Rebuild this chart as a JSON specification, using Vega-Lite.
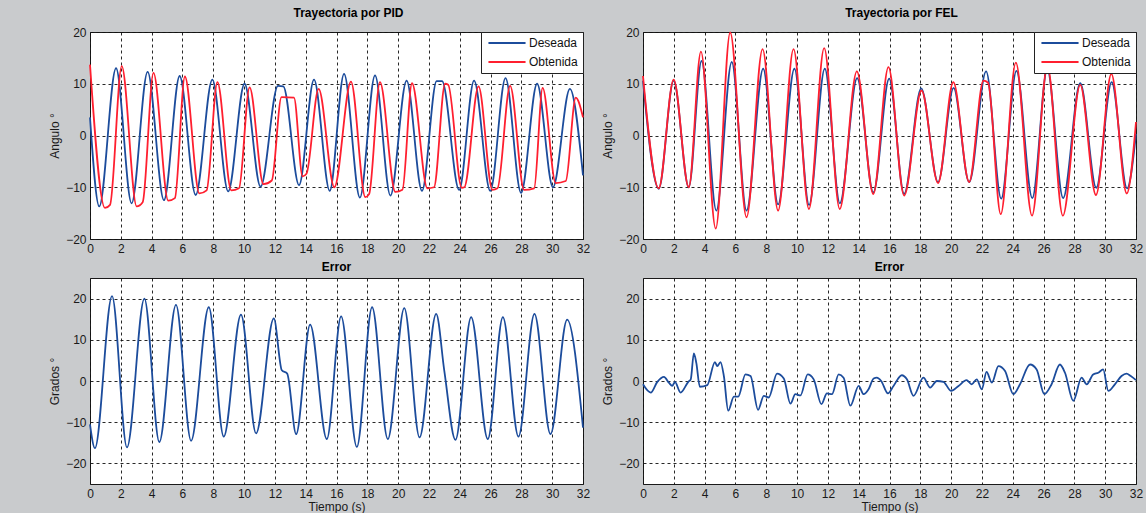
{
  "$schema": "https://vega.github.io/schema/vega-lite/v6.json",
  "background": "#c9cbcd",
  "padding": {"left": 48, "top": 6, "right": 10, "bottom": 0},
  "config": {
    "font": "Liberation Sans",
    "view": {"fill": "white", "stroke": "#1a1a1a", "strokeWidth": 1},
    "axis": {
      "grid": true, "gridColor": "#111111", "gridDash": [3, 3], "gridOpacity": 0.9, "gridWidth": 1,
      "domain": false, "ticks": false,
      "labelFontSize": 12, "labelColor": "#1a1a1a", "labelFont": "Liberation Sans",
      "labelFlush": false, "labelOverlap": false, "labelPadding": 4,
      "titleFontSize": 12, "titleFontWeight": "normal", "titleColor": "#1a1a1a", "titleFont": "Liberation Sans", "titlePadding": 4
    },
    "title": {"fontSize": 12, "fontWeight": "bold", "color": "#000000", "font": "Liberation Sans", "frame": "group"},
    "legend": {
      "orient": "top-right", "offset": 0, "title": null,
      "symbolType": "M-4,0H4", "symbolSize": 86, "symbolStrokeWidth": 2, "symbolOffset": 15,
      "labelFontSize": 12, "labelFont": "Liberation Sans", "labelColor": "#111111", "labelOffset": 16, "labelAlign": "left",
      "fillColor": "white", "strokeColor": "#222222", "padding": 5, "rowPadding": 7
    },
    "line": {"strokeWidth": 1.8, "interpolate": "monotone"}
  },
  "datasets": {
    "pid": [
      {"t": 0, "v": 3.5, "s": "Deseada"}, {"t": 0.6, "v": -13.7, "s": "Deseada"}, {"t": 1.69, "v": 13.0, "s": "Deseada"}, {"t": 2.7, "v": -13.1, "s": "Deseada"}, {"t": 3.74, "v": 12.3, "s": "Deseada"}, {"t": 4.8, "v": -12.5, "s": "Deseada"}, {"t": 5.82, "v": 11.5, "s": "Deseada"}, {"t": 6.86, "v": -11.5, "s": "Deseada"}, {"t": 7.94, "v": 10.8, "s": "Deseada"}, {"t": 8.97, "v": -10.8, "s": "Deseada"}, {"t": 10.03, "v": 10.0, "s": "Deseada"}, {"t": 11.07, "v": -9.9, "s": "Deseada"}, {"t": 12.2, "v": 9.6, "s": "Deseada"}, {"t": 12.55, "v": 9.5, "s": "Deseada"}, {"t": 13.57, "v": -9.6, "s": "Deseada"}, {"t": 14.54, "v": 10.8, "s": "Deseada"}, {"t": 15.56, "v": -10.7, "s": "Deseada"}, {"t": 16.49, "v": 11.9, "s": "Deseada"}, {"t": 17.52, "v": -12.0, "s": "Deseada"}, {"t": 18.5, "v": 11.6, "s": "Deseada"}, {"t": 19.5, "v": -11.6, "s": "Deseada"}, {"t": 20.55, "v": 10.6, "s": "Deseada"}, {"t": 21.55, "v": -10.7, "s": "Deseada"}, {"t": 22.5, "v": 10.5, "s": "Deseada"}, {"t": 22.85, "v": 10.5, "s": "Deseada"}, {"t": 23.96, "v": -10.5, "s": "Deseada"}, {"t": 24.93, "v": 10.6, "s": "Deseada"}, {"t": 25.98, "v": -10.7, "s": "Deseada"}, {"t": 26.97, "v": 11.1, "s": "Deseada"}, {"t": 27.98, "v": -11.1, "s": "Deseada"}, {"t": 29.02, "v": 10.0, "s": "Deseada"}, {"t": 30.05, "v": -10.0, "s": "Deseada"}, {"t": 31.15, "v": 9.0, "s": "Deseada"}, {"t": 32, "v": -7.7, "s": "Deseada"},
      {"t": 0, "v": 13.7, "s": "Obtenida"}, {"t": 0.97, "v": -14.0, "s": "Obtenida"}, {"t": 1.3, "v": -13.4, "s": "Obtenida"}, {"t": 2.06, "v": 13.4, "s": "Obtenida"}, {"t": 3.03, "v": -13.7, "s": "Obtenida"}, {"t": 3.42, "v": -12.9, "s": "Obtenida"}, {"t": 4.12, "v": 12.1, "s": "Obtenida"}, {"t": 5.08, "v": -12.6, "s": "Obtenida"}, {"t": 5.51, "v": -12.1, "s": "Obtenida"}, {"t": 6.16, "v": 11.4, "s": "Obtenida"}, {"t": 7.1, "v": -11.2, "s": "Obtenida"}, {"t": 7.57, "v": -10.6, "s": "Obtenida"}, {"t": 8.27, "v": 10.3, "s": "Obtenida"}, {"t": 9.17, "v": -10.6, "s": "Obtenida"}, {"t": 9.67, "v": -10.2, "s": "Obtenida"}, {"t": 10.36, "v": 9.3, "s": "Obtenida"}, {"t": 11.26, "v": -9.4, "s": "Obtenida"}, {"t": 11.8, "v": -8.7, "s": "Obtenida"}, {"t": 12.43, "v": 7.4, "s": "Obtenida"}, {"t": 13.24, "v": 7.3, "s": "Obtenida"}, {"t": 13.8, "v": -7.9, "s": "Obtenida"}, {"t": 14.05, "v": -7.4, "s": "Obtenida"}, {"t": 14.84, "v": 9.0, "s": "Obtenida"}, {"t": 15.86, "v": -10.0, "s": "Obtenida"}, {"t": 16.94, "v": 10.4, "s": "Obtenida"}, {"t": 17.87, "v": -11.9, "s": "Obtenida"}, {"t": 18.12, "v": -11.3, "s": "Obtenida"}, {"t": 18.82, "v": 10.3, "s": "Obtenida"}, {"t": 19.82, "v": -10.9, "s": "Obtenida"}, {"t": 20.28, "v": -10.5, "s": "Obtenida"}, {"t": 20.9, "v": 10.1, "s": "Obtenida"}, {"t": 21.9, "v": -10.2, "s": "Obtenida"}, {"t": 22.33, "v": -10.0, "s": "Obtenida"}, {"t": 23.05, "v": 10.0, "s": "Obtenida"}, {"t": 23.25, "v": 9.8, "s": "Obtenida"}, {"t": 24.13, "v": -10.1, "s": "Obtenida"}, {"t": 24.3, "v": -10.0, "s": "Obtenida"}, {"t": 25.22, "v": 9.5, "s": "Obtenida"}, {"t": 26.12, "v": -10.5, "s": "Obtenida"}, {"t": 26.45, "v": -10.2, "s": "Obtenida"}, {"t": 27.27, "v": 9.6, "s": "Obtenida"}, {"t": 28.18, "v": -10.5, "s": "Obtenida"}, {"t": 28.83, "v": -10.2, "s": "Obtenida"}, {"t": 29.38, "v": 9.2, "s": "Obtenida"}, {"t": 30.23, "v": -9.2, "s": "Obtenida"}, {"t": 30.88, "v": -8.8, "s": "Obtenida"}, {"t": 31.53, "v": 7.3, "s": "Obtenida"}, {"t": 32, "v": 3.5, "s": "Obtenida"}
    ],
    "fel": [
      {"t": 0, "v": 10.6, "s": "Deseada"}, {"t": 1.02, "v": -10.3, "s": "Deseada"}, {"t": 1.99, "v": 10.6, "s": "Deseada"}, {"t": 2.97, "v": -10.0, "s": "Deseada"}, {"t": 3.8, "v": 14.4, "s": "Deseada"}, {"t": 4.76, "v": -14.5, "s": "Deseada"}, {"t": 5.76, "v": 14.2, "s": "Deseada"}, {"t": 6.72, "v": -14.5, "s": "Deseada"}, {"t": 7.8, "v": 12.9, "s": "Deseada"}, {"t": 8.77, "v": -13.3, "s": "Deseada"}, {"t": 9.83, "v": 12.9, "s": "Deseada"}, {"t": 10.78, "v": -13.4, "s": "Deseada"}, {"t": 11.8, "v": 12.9, "s": "Deseada"}, {"t": 12.78, "v": -13.1, "s": "Deseada"}, {"t": 13.9, "v": 11.1, "s": "Deseada"}, {"t": 14.95, "v": -11.0, "s": "Deseada"}, {"t": 15.98, "v": 11.0, "s": "Deseada"}, {"t": 16.95, "v": -11.3, "s": "Deseada"}, {"t": 18.06, "v": 9.1, "s": "Deseada"}, {"t": 19.15, "v": -9.0, "s": "Deseada"}, {"t": 20.16, "v": 9.2, "s": "Deseada"}, {"t": 21.17, "v": -9.0, "s": "Deseada"}, {"t": 22.27, "v": 12.4, "s": "Deseada"}, {"t": 23.25, "v": -12.2, "s": "Deseada"}, {"t": 24.24, "v": 12.5, "s": "Deseada"}, {"t": 25.27, "v": -12.1, "s": "Deseada"}, {"t": 26.24, "v": 12.8, "s": "Deseada"}, {"t": 27.27, "v": -12.1, "s": "Deseada"}, {"t": 28.38, "v": 10.1, "s": "Deseada"}, {"t": 29.42, "v": -10.1, "s": "Deseada"}, {"t": 30.42, "v": 10.3, "s": "Deseada"}, {"t": 31.42, "v": -10.2, "s": "Deseada"}, {"t": 32, "v": 0.3, "s": "Deseada"},
      {"t": 0, "v": 11.5, "s": "Obtenida"}, {"t": 1.02, "v": -10.2, "s": "Obtenida"}, {"t": 1.99, "v": 10.8, "s": "Obtenida"}, {"t": 2.97, "v": -10.0, "s": "Obtenida"}, {"t": 3.76, "v": 16.2, "s": "Obtenida"}, {"t": 4.72, "v": -18.0, "s": "Obtenida"}, {"t": 5.66, "v": 19.9, "s": "Obtenida"}, {"t": 6.72, "v": -15.8, "s": "Obtenida"}, {"t": 7.76, "v": 16.7, "s": "Obtenida"}, {"t": 8.77, "v": -14.5, "s": "Obtenida"}, {"t": 9.77, "v": 16.7, "s": "Obtenida"}, {"t": 10.77, "v": -14.2, "s": "Obtenida"}, {"t": 11.76, "v": 16.9, "s": "Obtenida"}, {"t": 12.77, "v": -14.2, "s": "Obtenida"}, {"t": 13.88, "v": 12.4, "s": "Obtenida"}, {"t": 14.95, "v": -11.3, "s": "Obtenida"}, {"t": 15.93, "v": 13.2, "s": "Obtenida"}, {"t": 16.95, "v": -11.6, "s": "Obtenida"}, {"t": 18.08, "v": 8.7, "s": "Obtenida"}, {"t": 19.15, "v": -9.2, "s": "Obtenida"}, {"t": 20.14, "v": 10.3, "s": "Obtenida"}, {"t": 21.17, "v": -9.0, "s": "Obtenida"}, {"t": 22.1, "v": 10.6, "s": "Obtenida"}, {"t": 22.4, "v": 10.2, "s": "Obtenida"}, {"t": 23.22, "v": -15.2, "s": "Obtenida"}, {"t": 24.2, "v": 14.1, "s": "Obtenida"}, {"t": 25.25, "v": -15.5, "s": "Obtenida"}, {"t": 26.25, "v": 13.5, "s": "Obtenida"}, {"t": 27.25, "v": -15.5, "s": "Obtenida"}, {"t": 28.38, "v": 9.8, "s": "Obtenida"}, {"t": 29.4, "v": -11.5, "s": "Obtenida"}, {"t": 30.4, "v": 11.9, "s": "Obtenida"}, {"t": 31.4, "v": -11.2, "s": "Obtenida"}, {"t": 32, "v": 2.6, "s": "Obtenida"}
    ],
    "epid": [
      {"t": 0, "v": -10.5}, {"t": 0.32, "v": -16.3}, {"t": 1.43, "v": 20.6}, {"t": 2.4, "v": -16.1}, {"t": 3.53, "v": 20.0}, {"t": 4.5, "v": -14.8}, {"t": 5.58, "v": 18.5}, {"t": 6.56, "v": -14.5}, {"t": 7.71, "v": 17.9}, {"t": 8.68, "v": -13.5}, {"t": 9.8, "v": 16.1}, {"t": 10.78, "v": -12.7}, {"t": 11.93, "v": 15.2}, {"t": 12.45, "v": 2.6}, {"t": 12.8, "v": 1.8}, {"t": 13.38, "v": -12.9}, {"t": 14.29, "v": 13.7}, {"t": 15.37, "v": -14.1}, {"t": 16.3, "v": 15.7}, {"t": 17.32, "v": -16.0}, {"t": 18.31, "v": 17.9}, {"t": 19.33, "v": -14.1}, {"t": 20.4, "v": 17.7}, {"t": 21.39, "v": -13.7}, {"t": 22.47, "v": 16.3}, {"t": 23.0, "v": 2.4}, {"t": 23.72, "v": -14.3}, {"t": 24.74, "v": 15.5}, {"t": 25.82, "v": -14.1}, {"t": 26.8, "v": 15.5}, {"t": 27.81, "v": -13.5}, {"t": 28.85, "v": 16.3}, {"t": 29.89, "v": -12.9}, {"t": 30.97, "v": 14.9}, {"t": 32, "v": -11.3}
    ],
    "efel": [
      {"t": 0, "v": -0.8}, {"t": 0.5, "v": -2.8}, {"t": 0.93, "v": -0.2}, {"t": 1.36, "v": 1.0}, {"t": 1.68, "v": -0.4}, {"t": 1.9, "v": -1.2}, {"t": 2.07, "v": -0.2}, {"t": 2.44, "v": -2.8}, {"t": 2.94, "v": -0.2}, {"t": 3.1, "v": 0.4}, {"t": 3.3, "v": 6.7}, {"t": 3.46, "v": 4.4}, {"t": 3.69, "v": -1.4}, {"t": 4.17, "v": -1.0}, {"t": 4.67, "v": 4.6}, {"t": 4.82, "v": 3.6}, {"t": 5.03, "v": 4.6}, {"t": 5.25, "v": 1.2}, {"t": 5.53, "v": -7.2}, {"t": 5.9, "v": -3.8}, {"t": 6.18, "v": -3.8}, {"t": 6.65, "v": 1.6}, {"t": 6.98, "v": 1.2}, {"t": 7.47, "v": -7.0}, {"t": 7.84, "v": -3.6}, {"t": 8.16, "v": -4.0}, {"t": 8.7, "v": 1.8}, {"t": 9.14, "v": 0.6}, {"t": 9.57, "v": -5.5}, {"t": 9.89, "v": -3.2}, {"t": 10.22, "v": -3.5}, {"t": 10.69, "v": 1.6}, {"t": 11.08, "v": 0.4}, {"t": 11.58, "v": -5.6}, {"t": 11.94, "v": -3.0}, {"t": 12.27, "v": -3.2}, {"t": 12.7, "v": 1.6}, {"t": 13.02, "v": 0.8}, {"t": 13.46, "v": -6.0}, {"t": 14.0, "v": -1.2}, {"t": 14.32, "v": -3.2}, {"t": 14.64, "v": -2.0}, {"t": 14.97, "v": 0.6}, {"t": 15.18, "v": 0.8}, {"t": 15.46, "v": 0.0}, {"t": 15.9, "v": -3.0}, {"t": 16.26, "v": -1.2}, {"t": 16.8, "v": 1.4}, {"t": 17.13, "v": 0.4}, {"t": 17.56, "v": -3.6}, {"t": 18.2, "v": 0.8}, {"t": 18.64, "v": -1.6}, {"t": 19.07, "v": 0.0}, {"t": 19.5, "v": -0.2}, {"t": 20.0, "v": -2.4}, {"t": 20.48, "v": -1.2}, {"t": 21.0, "v": 0.2}, {"t": 21.34, "v": -0.8}, {"t": 21.66, "v": 0.4}, {"t": 21.99, "v": -2.0}, {"t": 22.3, "v": 2.2}, {"t": 22.64, "v": -0.4}, {"t": 23.07, "v": 3.6}, {"t": 23.5, "v": 2.4}, {"t": 24.04, "v": -3.2}, {"t": 24.47, "v": -0.8}, {"t": 25.12, "v": 4.0}, {"t": 25.55, "v": 2.8}, {"t": 26.05, "v": -3.2}, {"t": 26.52, "v": -0.8}, {"t": 27.06, "v": 4.0}, {"t": 27.39, "v": 2.0}, {"t": 27.93, "v": -4.8}, {"t": 28.47, "v": 0.8}, {"t": 28.8, "v": -0.8}, {"t": 29.22, "v": 1.6}, {"t": 29.55, "v": 2.0}, {"t": 29.87, "v": 2.8}, {"t": 30.2, "v": -2.4}, {"t": 30.63, "v": -0.8}, {"t": 31.06, "v": 1.2}, {"t": 31.38, "v": 1.8}, {"t": 31.66, "v": 1.2}, {"t": 32, "v": 0.2}
    ]
  },
  "bounds": "flush",
  "columns": 2,
  "spacing": {"row": 39, "column": 60},
  "resolve": {"scale": {"color": "independent"}, "legend": {"color": "independent"}},
  "concat": [
    {
      "width": 493, "height": 207,
      "title": {"text": "Trayectoria por  PID", "offset": 6, "dx": 12},
      "data": {"name": "pid"},
      "mark": {"type": "line"},
      "encoding": {
        "x": {"field": "t", "type": "quantitative", "scale": {"domain": [0, 32], "nice": false}, "axis": {"values": [0, 2, 4, 6, 8, 10, 12, 14, 16, 18, 20, 22, 24, 26, 28, 30, 32], "title": null}},
        "y": {"field": "v", "type": "quantitative", "scale": {"domain": [-20, 20], "nice": false}, "axis": {"values": [-20, -10, 0, 10, 20], "title": "Angulo °"}},
        "color": {"field": "s", "type": "nominal", "scale": {"domain": ["Deseada", "Obtenida"], "range": ["#1c4c9c", "#ff1f2f"]}, "legend": {"title": null}}
      }
    },
    {
      "width": 493, "height": 207,
      "title": {"text": "Trayectoria por FEL", "offset": 6, "dx": 12},
      "data": {"name": "fel"},
      "mark": {"type": "line"},
      "encoding": {
        "x": {"field": "t", "type": "quantitative", "scale": {"domain": [0, 32], "nice": false}, "axis": {"values": [0, 2, 4, 6, 8, 10, 12, 14, 16, 18, 20, 22, 24, 26, 28, 30, 32], "title": null}},
        "y": {"field": "v", "type": "quantitative", "scale": {"domain": [-20, 20], "nice": false}, "axis": {"values": [-20, -10, 0, 10, 20], "title": "Angulo °"}},
        "color": {"field": "s", "type": "nominal", "scale": {"domain": ["Deseada", "Obtenida"], "range": ["#1c4c9c", "#ff1f2f"]}, "legend": {"title": null}}
      }
    },
    {
      "width": 493, "height": 206,
      "title": {"text": "Error", "offset": 4},
      "data": {"name": "epid"},
      "mark": {"type": "line", "color": "#1c4c9c"},
      "encoding": {
        "x": {"field": "t", "type": "quantitative", "scale": {"domain": [0, 32], "nice": false}, "axis": {"values": [0, 2, 4, 6, 8, 10, 12, 14, 16, 18, 20, 22, 24, 26, 28, 30, 32], "title": "Tiempo (s)", "titlePadding": 2}},
        "y": {"field": "v", "type": "quantitative", "scale": {"domain": [-25, 25], "nice": false}, "axis": {"values": [-20, -10, 0, 10, 20], "title": "Grados °"}}
      }
    },
    {
      "width": 493, "height": 206,
      "title": {"text": "Error", "offset": 4},
      "data": {"name": "efel"},
      "mark": {"type": "line", "color": "#1c4c9c"},
      "encoding": {
        "x": {"field": "t", "type": "quantitative", "scale": {"domain": [0, 32], "nice": false}, "axis": {"values": [0, 2, 4, 6, 8, 10, 12, 14, 16, 18, 20, 22, 24, 26, 28, 30, 32], "title": "Tiempo (s)", "titlePadding": 2}},
        "y": {"field": "v", "type": "quantitative", "scale": {"domain": [-25, 25], "nice": false}, "axis": {"values": [-20, -10, 0, 10, 20], "title": "Grados °"}}
      }
    }
  ]
}
